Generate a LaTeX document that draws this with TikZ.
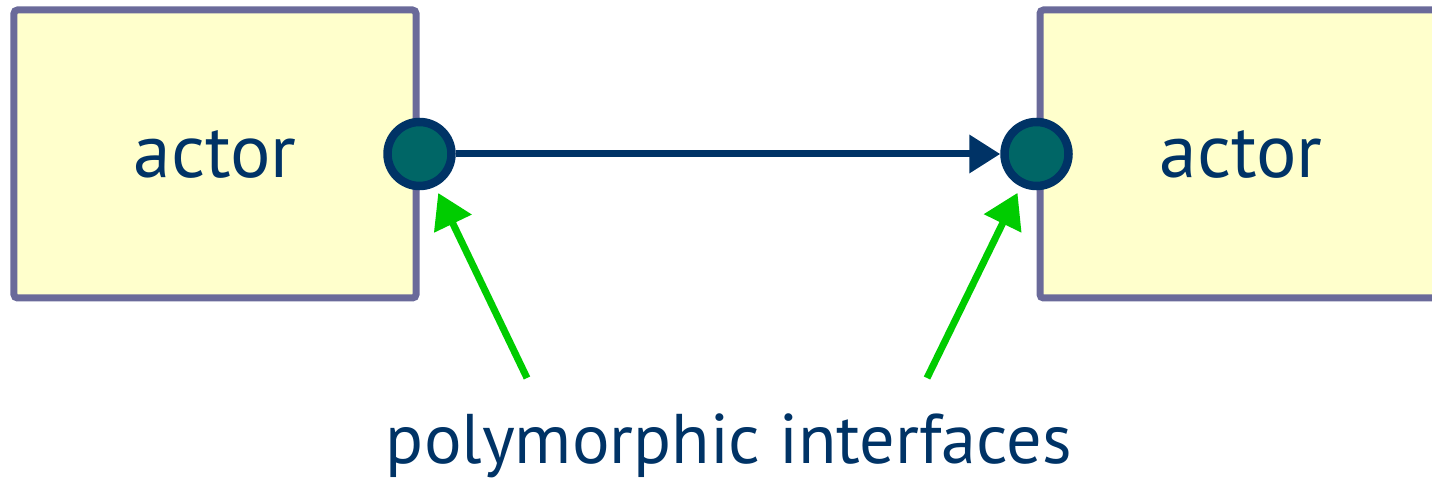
\documentclass[tikz,border=0pt]{standalone}
\usepackage{fontspec}
\setmainfont{PT Sans}
\usetikzlibrary{arrows.meta,positioning}
\definecolor{boxfill}{HTML}{FFFFCC}
\definecolor{boxline}{HTML}{6A6A9A}
\definecolor{navy}{HTML}{003366}
\definecolor{portfill}{HTML}{006666}
\definecolor{pointgreen}{HTML}{00CC00}
\begin{document}
\begin{tikzpicture}[
  box/.style={draw=boxline, fill=boxfill, line width=0.07cm, rounded corners=1pt, minimum width=4.02cm, minimum height=2.88cm, inner sep=0pt, font=\fontsize{21.5}{26}\selectfont, text=navy},
  port/.style={circle, draw=navy, fill=portfill, line width=0.085cm, minimum size=0.64cm, inner sep=0pt},
  arr/.style={draw=navy, line width=0.07cm, -{Triangle[length=0.31cm, width=0.37cm]}},
  pointer/.style={draw=pointgreen, line width=0.07cm, shorten >=0.07cm, -{Triangle[length=0.34cm, width=0.4cm]}},
  caption/.style={font=\fontsize{20}{24}\selectfont, text=navy}
]
\clip (0,0) rectangle (14.32,4.82);
\node[box] (actorL) at (2.15,3.28) {actor};
\node[box] (actorR) at (12.41,3.28) {actor};
\node[port] (portL) at (actorL.east) {};
\node[port] (portR) at (actorR.west) {};
\draw[arr] (portL) -- (portR);
% pointers to the two interfaces
\coordinate (tailL) at (5.27,1.04);
\coordinate (tailR) at (9.27,1.04);
\draw[pointer] (tailL) -- (portL);
\draw[pointer] (tailR) -- (portR);
\node[caption, anchor=base] (label) at (7.29,0.19) {polymorphic interfaces};
\end{tikzpicture}
\end{document}
